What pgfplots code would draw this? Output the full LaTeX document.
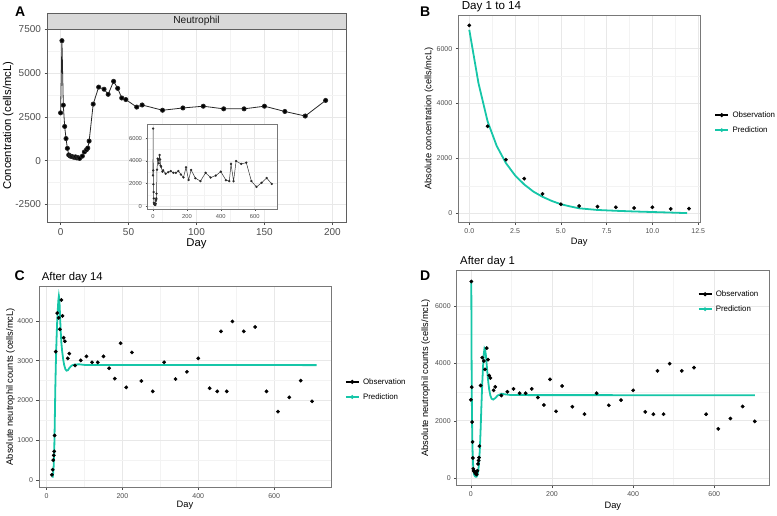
\documentclass[border=0pt]{standalone}
\usepackage{fontspec}
\setmainfont{Liberation Sans}
\usepackage{pgfplots}
\usepackage{pgfplotstable}
\pgfplotsset{compat=1.18}
\definecolor{pred}{RGB}{22,198,168}
\definecolor{gridc}{RGB}{232,232,232}
\definecolor{gridm}{RGB}{243,243,243}
\definecolor{tickc}{RGB}{77,77,77}
\definecolor{borderc}{RGB}{120,120,120}
\definecolor{borderA}{RGB}{95,95,95}
\definecolor{stripc}{RGB}{217,217,217}

\pgfplotstableread{
day val
0 2730
1 6850
2 3170
3 1955
4 1263
5 704
6 328
7 267
8 243
9 219
10 194
11 219
12 158
13 170
14 130
16 260
17.5 500
19 620
20 720
21 1120
24 3230
28 4200
32 4080
35 3790
39 4530
42 4130
45 3580
48 3490
56 3060
60 3180
75 2880
90 3010
105 3110
120 2960
135 2960
150 3110
165 2810
180 2550
195 3440
210 2330
225 3210
250 2490
280 2230
310 2960
340 2540
370 2720
400 3060
430 2310
450 2230
460 3740
475 2230
490 3990
520 3740
550 3850
580 2230
610 1720
640 2080
670 2500
700 1980
}\obsall

\pgfplotstableread{
day val
0 6850
1 3170
2 1955
3 1263
4 704
5 328
6 267
7 243
8 219
9 194
10 219
11 158
12 170
}\obsB

\pgfplotstableread{
day val
0 6690
0.5 4750
1 3350
1.5 2450
2 1830
2.5 1380
3 1050
3.5 790
4 600
4.5 450
5 330
5.5 250
6 180
7 120
8 90
9 65
10 45
11 25
11.9 5
}\predB

\pgfplotstableread{
day val
15.8 60
17 130
18.4 300
20 650
21 1130
22 1700
23 2300
24.5 2950
26.3 3560
28 4000
29.8 4320
31 4520
32.4 4630
33.5 4560
34.5 4380
36.8 3820
39 3450
41.2 3230
44 3020
46.5 2890
49.5 2790
52.6 2750
56 2760
59.6 2810
64 2860
68.4 2890
75 2905
86 2910
100 2895
712 2890
}\predC

\pgfplotstableread{
day val
1 6850
1.5 4750
2 3350
2.5 2450
3 1830
3.5 1380
4 1050
5 600
6 330
7 190
8 120
10 70
12 50
14 50
16 110
18 250
20 500
22 1000
24 1700
26 2550
28 3300
30 3900
32 4350
33.5 4520
35 4480
37 4280
39 3950
41 3620
43 3330
45 3100
48 2880
51 2770
55 2740
60 2790
66 2880
75 2940
85 2920
100 2895
700 2890
}\predD

\pgfplotsset{
  gg/.style={
    scale only axis, anchor=north west, enlargelimits=false,
    axis line style={draw=borderc, line width=0.8pt},
    grid=both,
    major grid style={draw=gridc, line width=0.6pt},
    minor grid style={draw=gridm, line width=0.4pt},
    minor tick num=1, minor tick length=0pt,
    tick align=outside, major tick length=2.5pt,
    major tick style={draw=tickc, line width=0.5pt},
    xtick pos=left, ytick pos=left,
    /pgf/number format/assume math mode=true,
    /pgf/number format/1000 sep={},
    tick label style={text=tickc, font=\fontsize{7}{8}\selectfont},
    label style={font=\fontsize{9.3}{11}\selectfont, text=black},
    legend cell align=left,
    legend image code/.code={\draw[mark repeat=2,mark phase=2,##1] plot coordinates {(0pt,0pt) (6.5pt,0pt) (13pt,0pt)};},
    legend style={draw=none, fill=none, inner sep=0pt, outer sep=0pt,
      font=\fontsize{7.9}{9}\selectfont,
      nodes={inner sep=1pt, text height=6pt, text depth=1.5pt},
      row sep=5.5pt,
      /tikz/every odd column/.append style={column sep=2.5pt}},
  },
  obs/.style={only marks, mark=*, mark size=1.7pt, black, mark options={fill=black}},
  predl/.style={pred, line width=1.8pt, mark=none},
}

\begin{document}
\begin{tikzpicture}
\useasboundingbox (0pt,0pt) rectangle (777pt,-515pt);

% ---------------- Panel A ----------------
\draw[borderA, fill=stripc, line width=0.8pt] (47pt,-13pt) rectangle (346pt,-29.3pt);
\node[text=black!90, font=\fontsize{10.2}{12}\selectfont] at (196.5pt,-21.2pt) {Neutrophil};
\begin{axis}[gg, at={(47pt,-29.3pt)}, width=299pt, height=192.7pt,
  axis line style={draw=borderA, line width=0.8pt},
  xmin=-10, xmax=210, ymin=-3500, ymax=7500,
  xtick={0,50,100,150,200}, ytick={-2500,0,2500,5000,7500},
  tick label style={font=\fontsize{10}{12}\selectfont},
  label style={font=\fontsize{11.3}{13}\selectfont},
  xlabel={Day}, ylabel={Concentration (cells/mcL)},
  xlabel style={at={(axis description cs:0.5,-0.114)}, anchor=center},
  ylabel style={at={(axis description cs:-0.130,0.5)}, anchor=center},
]
\addplot[black!85, line width=0.8pt, mark=*, mark size=2.1pt, mark options={fill=black}, restrict x to domain=-1:200] table[x=day,y=val] {\obsall};
\end{axis}
\node[anchor=base west, font=\fontsize{14}{16}\selectfont\bfseries] at (11.7pt,-16.7pt) {A};

% inset
\begin{axis}[gg, at={(147pt,-124pt)}, width=130.7pt, height=85.3pt,
  axis line style={draw=borderc, line width=0.6pt},
  axis background/.style={fill=white},
  xmin=-35, xmax=735, ymin=-250, ymax=7250,
  xtick={0,200,400,600}, ytick={0,2000,4000,6000},
  major tick length=1.5pt,
  tick label style={font=\fontsize{5.8}{7}\selectfont},
]
\addplot[black!80, line width=0.5pt, mark=*, mark size=0.9pt, mark options={fill=black}] table[x=day,y=val] {\obsall};
\end{axis}

% ---------------- Panel B ----------------
\begin{axis}[gg, at={(458.3pt,-15pt)}, width=241.7pt, height=207.3pt,
  xmin=-0.6, xmax=12.6, ymin=-330, ymax=7230,
  xtick={0,2.5,5,7.5,10,12.5}, ytick={0,2000,4000,6000},
  xticklabel style={/pgf/number format/.cd, fixed, fixed zerofill, precision=1},
  xlabel={Day}, ylabel={Absolute concentration (cells/mcL)},
  xlabel style={at={(axis description cs:0.5,-0.094)}, anchor=center},
  ylabel style={at={(axis description cs:-0.121,0.5)}, anchor=center},
  legend style={at={(axis description cs:1.06,0.481)}, anchor=west},
]
\addlegendimage{black, line width=1.5pt, mark=*, mark size=1.2pt}
\addlegendentry{Observation}
\addlegendimage{pred, line width=1.5pt, mark=*, mark size=1.0pt}
\addlegendentry{Prediction}
\addplot[obs, forget plot] table[x=day,y=val] {\obsB};
\addplot[predl, forget plot] table[x=day,y=val] {\predB};
\end{axis}
\node[anchor=base west, font=\fontsize{11.6}{13}\selectfont] at (458.3pt,-9.5pt) {Day 1 to 14};
\node[anchor=base west, font=\fontsize{14}{16}\selectfont\bfseries] at (416.7pt,-16pt) {B};

% ---------------- Panel C ----------------
\begin{axis}[gg, at={(39pt,-286pt)}, width=292pt, height=201.3pt,
  xmin=-20, xmax=750, ymin=-184, ymax=4880,
  xtick={0,200,400,600}, ytick={0,1000,2000,3000,4000},
  xlabel={Day}, ylabel={Absolute neutrophil counts (cells/mcL)},
  xlabel style={at={(axis description cs:0.5,-0.091)}, anchor=center},
  ylabel style={at={(axis description cs:-0.0976,0.5)}, anchor=center},
  legend style={at={(axis description cs:1.048,0.486)}, anchor=west},
]
\addlegendimage{black, line width=1.5pt, mark=*, mark size=1.2pt}
\addlegendentry{Observation}
\addlegendimage{pred, line width=1.5pt, mark=*, mark size=1.0pt}
\addlegendentry{Prediction}
\addplot[obs, forget plot, restrict x to domain=13.5:800] table[x=day,y=val] {\obsall};
\addplot[predl, forget plot] table[x=day,y=val] {\predC};
\end{axis}
\node[anchor=base west, font=\fontsize{11.3}{13}\selectfont] at (38.3pt,-280.3pt) {After day 14};
\node[anchor=base west, font=\fontsize{14}{16}\selectfont\bfseries] at (11pt,-280pt) {C};

% ---------------- Panel D ----------------
\begin{axis}[gg, at={(456.7pt,-270pt)}, width=312.3pt, height=215.7pt,
  xmin=-35, xmax=735, ymin=-260, ymax=7250,
  xtick={0,200,400,600}, ytick={0,2000,4000,6000},
  xlabel={Day}, ylabel={Absolute neutrophil counts (cells/mcL)},
  xlabel style={at={(axis description cs:0.5,-0.094)}, anchor=center},
  ylabel style={at={(axis description cs:-0.0993,0.5)}, anchor=center},
  legend style={at={(axis description cs:0.772,0.853)}, anchor=west},
]
\addlegendimage{black, line width=1.5pt, mark=*, mark size=1.2pt}
\addlegendentry{Observation}
\addlegendimage{pred, line width=1.5pt, mark=*, mark size=1.0pt}
\addlegendentry{Prediction}
\addplot[obs, forget plot] table[x=day,y=val] {\obsall};
\addplot[predl, forget plot] table[x=day,y=val] {\predD};
\end{axis}
\node[anchor=base west, font=\fontsize{11.3}{13}\selectfont] at (456.7pt,-264.7pt) {After day 1};
\node[anchor=base west, font=\fontsize{14}{16}\selectfont\bfseries] at (416.7pt,-280pt) {D};
\end{tikzpicture}
\end{document}
